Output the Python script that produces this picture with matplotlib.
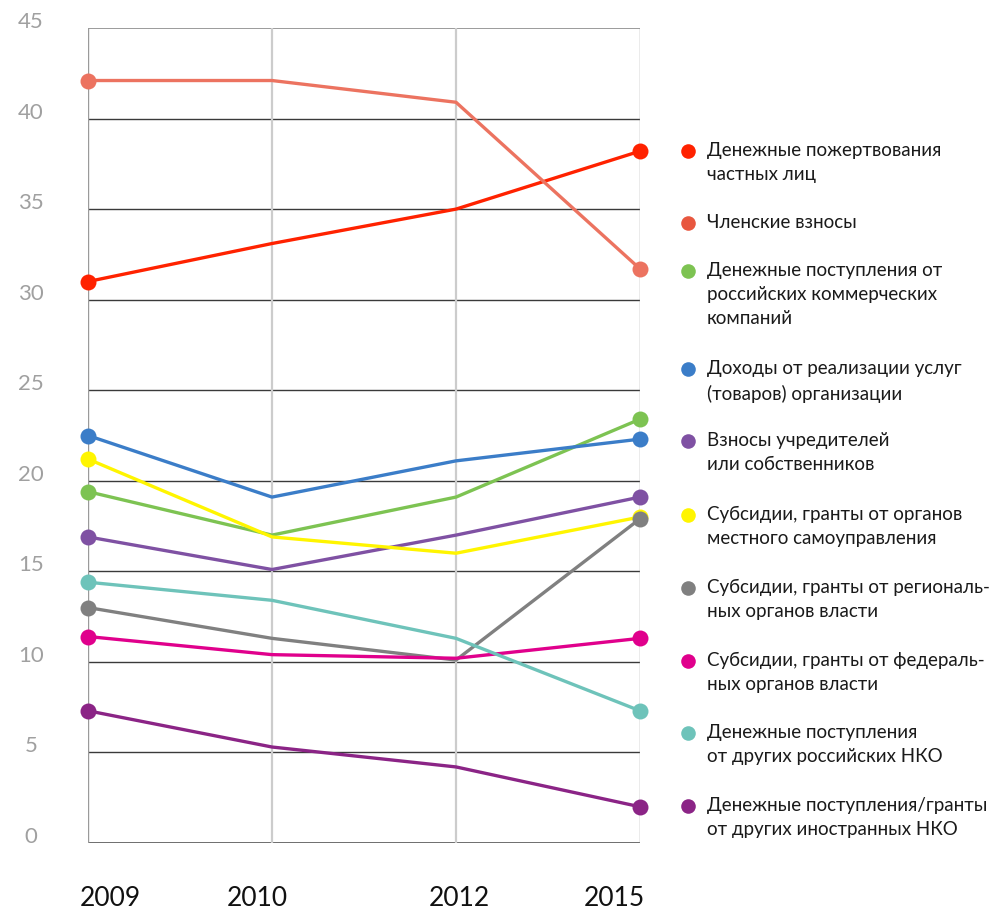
import matplotlib.pyplot as plt
import matplotlib.transforms as mtransforms

years = ["2009", "2010", "2012", "2015"]

labels = [
    "Денежные пожертвования\nчастных лиц",
    "Членские взносы",
    "Денежные поступления от\nроссийских коммерческих\nкомпаний",
    "Доходы от реализации услуг\n(товаров) организации",
    "Взносы учредителей\nили собственников",
    "Субсидии, гранты от органов\nместного самоуправления",
    "Субсидии, гранты от региональ-\nных органов власти",
    "Субсидии, гранты от федераль-\nных органов власти",
    "Денежные поступления\nот других российских НКО",
    "Денежные поступления/гранты\nот других иностранных НКО",
]

private_donations = [31.0, 33.1, 35.0, 38.2]
membership_fees = [42.1, 42.1, 40.9, 31.7]
russian_companies = [19.4, 17.0, 19.1, 23.4]
own_services = [22.5, 19.1, 21.1, 22.3]
founders = [16.9, 15.1, 17.0, 19.1]
local_grants = [21.2, 16.9, 16.0, 18.0]
regional_grants = [13.0, 11.3, 10.1, 17.9]
federal_grants = [11.4, 10.4, 10.2, 11.3]
russian_nko = [14.4, 13.4, 11.3, 7.3]
foreign_nko = [7.3, 5.3, 4.2, 2.0]

series = [private_donations, membership_fees, russian_companies, own_services,
          founders, local_grants, regional_grants, federal_grants,
          russian_nko, foreign_nko]

colors = ["#FF2200", "#EC7360", "#7DC352", "#3B7DC8", "#7F51A3",
          "#FFF500", "#808080", "#E0008C", "#6EC3BA", "#8B2486"]
legend_colors = list(colors)
legend_colors[1] = "#E8573F"

y_ticks = [0, 5, 10, 15, 20, 25, 30, 35, 40, 45]

W, H = 997, 911
fig = plt.figure(figsize=(W / 100, H / 100), dpi=100)
ax = fig.add_axes([88 / W, (H - 843) / H, (640 - 88) / W, (843 - 28) / H])

xs = list(range(len(years)))
ax.set_xlim(0, len(years) - 1)
ax.set_ylim(0, 45)

# grid
for v in y_ticks[1:-1]:
    ax.axhline(v, color="#3a3a3a", lw=1.0, zorder=1)
ax.axhline(0, color="#555555", lw=1.2, zorder=1)
ax.axhline(45, color="#8a8a8a", lw=1.2, zorder=1)
for x in xs[1:-1]:
    ax.axvline(x, color="#cccccc", lw=1.6, zorder=1)
for x in (xs[0], xs[-1]):
    ax.axvline(x, color="#9a9a9a", lw=1.0, zorder=1)

for s in ax.spines.values():
    s.set_visible(False)

for vals, c in zip(series, colors):
    ax.plot(xs, vals, color=c, lw=2.4, solid_joinstyle="round",
            solid_capstyle="round", zorder=3, clip_on=False)
    ax.plot([xs[0], xs[-1]], [vals[0], vals[-1]], "o", color=c,
            ms=11.5, mec="none", zorder=4, clip_on=False)

# y tick labels sit on the gridlines
ax.set_yticks([])
ytrans = mtransforms.blended_transform_factory(fig.transFigure, ax.transData)
for v in y_ticks:
    ax.text(31 / W, v, str(v), transform=ytrans, ha="center", va="baseline",
            fontsize=16, color="#a0a0a0", fontfamily="Lato")

# x tick labels
ax.set_xticks([])
xtrans = mtransforms.blended_transform_factory(ax.transData, fig.transFigure)
x_align = [("left", -8), ("center", -15), ("center", 3), ("right", 5)]
for x, lab, (ha, dx) in zip(xs, years, x_align):
    t = ax.text(x, (H - 898) / H, lab, transform=xtrans, ha=ha, va="center",
                fontsize=19, color="#111111", fontfamily="Lato")
    t.set_transform(xtrans + mtransforms.ScaledTranslation(dx / 100, 0, fig.dpi_scale_trans))

# legend on the right
legend_y = [151, 223, 271, 369, 441, 515, 588, 661, 733, 806]
for yy, lab, c in zip(legend_y, labels, legend_colors):
    fy = (H - yy) / H
    fig.lines.append(plt.Line2D([688 / W], [fy], marker="o", ms=10.5, color=c,
                                mec="none", transform=fig.transFigure))
    fig.text(707 / W, fy, lab, ha="left", va="top", fontsize=13.5,
             color="#1a1a1a", linespacing=1.5, fontfamily="Lato",
             transform=fig.transFigure + mtransforms.ScaledTranslation(0, 9 / 100, fig.dpi_scale_trans))

fig.savefig("out.png", dpi=100)
